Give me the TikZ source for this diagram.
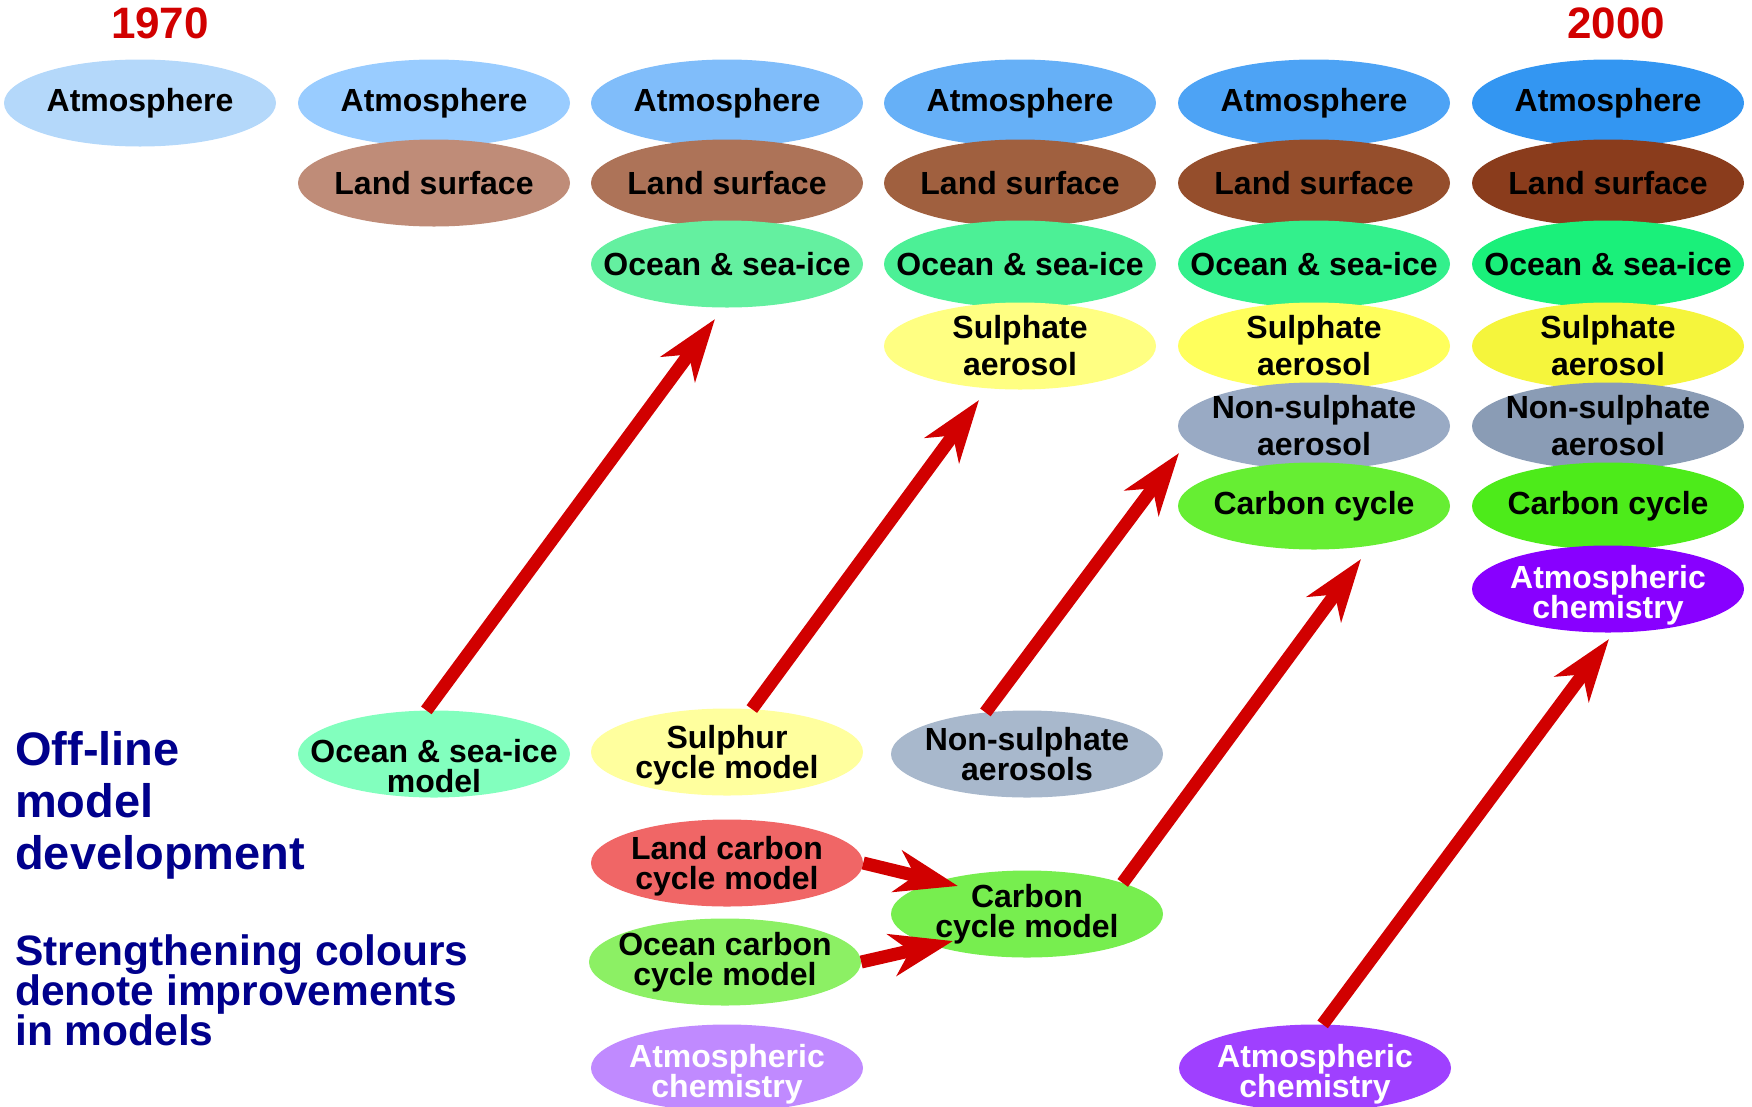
\documentclass[tikz,border=0pt]{standalone}
\usepackage{fontspec}
\setmainfont{Liberation Sans}
\usetikzlibrary{arrows.meta,shapes.geometric}
\definecolor{AtmA}{HTML}{B4D8FA}
\definecolor{AtmB}{HTML}{99CCFF}
\definecolor{AtmC}{HTML}{80BDFA}
\definecolor{AtmD}{HTML}{66B0F7}
\definecolor{AtmE}{HTML}{4DA3F5}
\definecolor{AtmF}{HTML}{3396F2}
\definecolor{LandB}{HTML}{BF8C78}
\definecolor{LandC}{HTML}{AD7358}
\definecolor{LandD}{HTML}{A0603F}
\definecolor{LandE}{HTML}{954E2C}
\definecolor{LandF}{HTML}{8A3C1C}
\definecolor{OceanB}{HTML}{82FFBE}
\definecolor{OceanC}{HTML}{64F0A0}
\definecolor{OceanD}{HTML}{4CF096}
\definecolor{OceanE}{HTML}{33F08C}
\definecolor{OceanF}{HTML}{1AF07A}
\definecolor{SulphB}{HTML}{FFFF9E}
\definecolor{SulphD}{HTML}{FFFF82}
\definecolor{SulphE}{HTML}{FFFF5C}
\definecolor{SulphF}{HTML}{F5F53C}
\definecolor{NonsB}{HTML}{A8B8CC}
\definecolor{NonsE}{HTML}{99AAC4}
\definecolor{NonsF}{HTML}{8A9CB5}
\definecolor{LandCarb}{HTML}{F06666}
\definecolor{OceanCarb}{HTML}{8CF064}
\definecolor{CarbB}{HTML}{77EE4F}
\definecolor{CarbE}{HTML}{66EE33}
\definecolor{CarbF}{HTML}{4DEB1A}
\definecolor{ChemC}{HTML}{C08AFF}
\definecolor{ChemE}{HTML}{9F40FF}
\definecolor{ChemF}{HTML}{8800FF}
\definecolor{ArrowRed}{HTML}{D10000}
\definecolor{NoteBlue}{HTML}{00008C}
\newcommand{\dropto}[1]{\rule{0pt}{#1pt}}

\begin{document}
\begin{tikzpicture}[x=1pt,y=-1pt,
    layer/.style={ellipse,minimum width=272pt,minimum height=87pt,inner xsep=-40pt,inner ysep=-12pt,
      align=center,font=\fontsize{32}{37}\selectfont\bfseries},
    model/.style={layer,font=\fontsize{32}{30}\selectfont\bfseries},
    bigarrow/.style={draw=ArrowRed,line width=13pt,
      -{Stealth[length=62pt,width=42pt,inset=18pt]}},
    year/.style={text=ArrowRed,font=\fontsize{44}{44}\selectfont\bfseries,inner sep=0pt},
    note/.style={text=NoteBlue,align=left,inner sep=0pt,anchor=north west}]
    \useasboundingbox (0,0) rectangle (1752,1106);
    \node[year] (y1970) at (160,23) {1970};
    \node[year] (y2000) at (1616,23) {2000};
    \foreach \n/\x/\c in {1/140/AtmA,2/434/AtmB,3/727/AtmC,4/1020/AtmD,5/1314/AtmE,6/1608/AtmF} {
     \node[layer,fill=\c] (atm\n) at (\x,103) {Atmosphere};
    }
    \foreach \n/\x/\c in {2/434/LandB,3/727/LandC,4/1020/LandD,5/1314/LandE,6/1608/LandF} {
     \node[layer,fill=\c] (land\n) at (\x,183) {Land surface};
    }
    \foreach \n/\x/\c in {3/727/OceanC,4/1020/OceanD,5/1314/OceanE,6/1608/OceanF} {
     \node[layer,fill=\c] (ocean\n) at (\x,264) {Ocean \& sea-ice};
    }
    \foreach \n/\x/\c in {4/1020/SulphD,5/1314/SulphE,6/1608/SulphF} {
     \node[layer,fill=\c] (sulph\n) at (\x,346) {Sulphate\\aerosol};
    }
    \foreach \n/\x/\c in {5/1314/NonsE,6/1608/NonsF} {
     \node[layer,fill=\c] (nons\n) at (\x,426) {Non-sulphate\\aerosol};
    }
    \foreach \n/\x/\c in {5/1314/CarbE,6/1608/CarbF} {
     \node[layer,fill=\c] (carb\n) at (\x,506) {Carbon cycle};
    }
    \node[model,fill=ChemF,text=white] (chem6) at (1608,589) {\dropto{35}Atmospheric\\chemistry};
    \node[model,fill=OceanB] (oceanm) at (434,754) {\dropto{48}Ocean \& sea-ice\\model};
    \node[model,fill=SulphB] (sulphm) at (727,752) {\dropto{30}Sulphur\\cycle model};
    \node[model,fill=NonsB] (nonsm) at (1027,754) {Non-sulphate\\aerosols};
    \node[model,fill=LandCarb] (landcm) at (727,863) {\dropto{30}Land carbon\\cycle model};
    \node[model,fill=OceanCarb] (oceancm) at (725,962) {Ocean carbon\\cycle model};
    \node[model,fill=CarbB] (carbm) at (1027,914) {Carbon\\cycle model};
    \node[model,fill=ChemC,text=white] (chemm3) at (727,1068) {\dropto{35}Atmospheric\\chemistry};
    \node[model,fill=ChemE,text=white] (chemm5) at (1315,1068) {\dropto{35}Atmospheric\\chemistry};
    \node[note,font=\fontsize{47}{52}\selectfont\bfseries] (offline) at (15,731)
     {Off-line\\model\\development};
    \node[note,font=\fontsize{42.5}{40}\selectfont\bfseries] (colours) at (15,934)
     {Strengthening colours\\denote improvements\\in models};
    \coordinate (t1) at (715,319);
    \coordinate (t2) at (979,400);
    \coordinate (t3) at (1179,453);
    \coordinate (t4) at (1361,559);
    \coordinate (t5) at (1609,639);
    \coordinate (t6) at (958,886);
    \coordinate (t7) at (953,941);
    \draw[bigarrow] (oceanm.100) -- (t1);
    \draw[bigarrow] (sulphm.60) -- (t2);
    \draw[bigarrow] (nonsm.135) -- (t3);
    \draw[bigarrow] (carbm.18) -- (t4);
    \draw[bigarrow] (chemm5.80) -- (t5);
    \draw[bigarrow] (landcm.east) -- (t6);
    \draw[bigarrow] (oceancm.east) -- (t7);
\end{tikzpicture}
\end{document}
